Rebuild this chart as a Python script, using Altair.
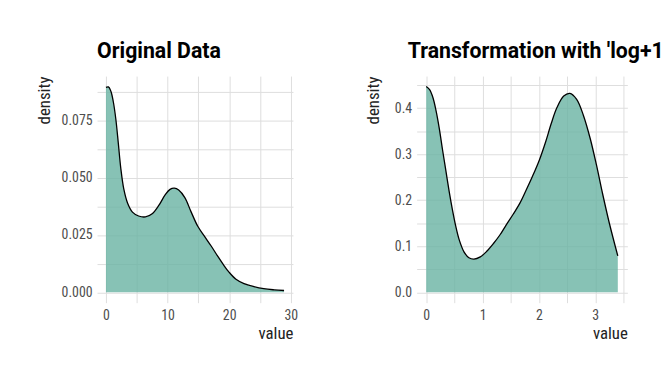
import altair as alt
import pandas as pd

FONT = '"Roboto Condensed", "Liberation Sans Narrow", "DejaVu Sans Condensed", Roboto, sans-serif'
TITLE_FONT = 'Roboto, sans-serif'

# ---- data ----
orig_x = [0, 0.4, 0.8, 1.2, 1.6, 2.0, 2.4, 2.9, 3.5, 4.3, 5.3, 6.4, 7.5, 8.6, 9.6,
          10.4, 11.1, 11.8, 12.8, 13.8, 14.9, 16.0, 17.1, 18.1, 19.0, 20.0, 21.1,
          22.4, 24.0, 25.6, 27.3, 28.9]
orig_y = [0.0894, 0.0896, 0.0877, 0.0830, 0.0756, 0.0652, 0.0543, 0.0450, 0.0390,
          0.0350, 0.0333, 0.0329, 0.0343, 0.0380, 0.0425, 0.0449, 0.0454, 0.0446,
          0.0413, 0.0352, 0.0288, 0.0244, 0.0201, 0.0159, 0.0123, 0.0087, 0.0057,
          0.0038, 0.0025, 0.0016, 0.0011, 0.0008]

log_x = [0, 0.06, 0.12, 0.175, 0.233, 0.29, 0.35, 0.41, 0.467, 0.525, 0.583, 0.67,
         0.758, 0.846, 0.96, 1.07, 1.19, 1.31, 1.42, 1.54, 1.66, 1.77, 1.89, 2.01,
         2.12, 2.22, 2.32, 2.44, 2.55, 2.67, 2.79, 2.91, 3.02, 3.13, 3.25, 3.4]
log_y = [0.447, 0.440, 0.4225, 0.394, 0.355, 0.309, 0.263, 0.217, 0.178, 0.143,
         0.115, 0.088, 0.075, 0.072, 0.077, 0.0885, 0.1055, 0.125, 0.1465, 0.169,
         0.193, 0.221, 0.253, 0.288, 0.327, 0.367, 0.401, 0.426, 0.432, 0.419,
         0.384, 0.334, 0.277, 0.214, 0.150, 0.079]

title_left = "Original Data"
title_right = "Transformation with 'log+1'"

left_x_ticks = [0, 5, 10, 15, 20, 25, 30]
left_y_ticks = [0, 0.0125, 0.025, 0.0375, 0.05, 0.0625, 0.075, 0.0875]
right_x_ticks = [0, 0.5, 1, 1.5, 2, 2.5, 3, 3.5]
right_y_ticks = [0, 0.05, 0.1, 0.15, 0.2, 0.25, 0.3, 0.35, 0.4, 0.45]

FILL = "#69b3a2"
GRID = "#dedede"


def panel(xs, ys, title, xdom, ydom, xticks, yticks, xlab, ylab, w, h,
          ytitle_x, title_dx, title_limit):
    df = pd.DataFrame({"value": xs, "density": ys})
    xaxis = alt.Axis(values=xticks, labelExpr=xlab, grid=True, gridColor=GRID,
                     gridWidth=1, domain=False, ticks=False, tickSize=0,
                     labelPadding=6, labelFlush=False, labelFont=FONT,
                     labelFontSize=14, labelColor="#4d4d4d", title="value",
                     titleFont=FONT, titleFontSize=17, titleFontWeight="normal",
                     titleColor="#222222", titleAlign="right",
                     titleBaseline="alphabetic", titleX=w, titleY=36,
                     titleAnchor="end")
    yaxis = alt.Axis(values=yticks, labelExpr=ylab, grid=True, gridColor=GRID,
                     gridWidth=1, domain=False, ticks=False, tickSize=0,
                     labelPadding=5, labelFlush=False, labelFont=FONT,
                     labelFontSize=14, labelColor="#4d4d4d", title="density",
                     titleFont=FONT, titleFontSize=17, titleFontWeight="normal",
                     titleColor="#222222", titleAngle=270, titleAlign="right",
                     titleBaseline="alphabetic", titleX=ytitle_x, titleY=0)
    area = alt.Chart(df).mark_area(
        fill=FILL, fillOpacity=0.8, interpolate="catmull-rom",
        line={"color": "black", "strokeWidth": 1.3},
    ).encode(
        x=alt.X("value:Q", scale=alt.Scale(domain=xdom, nice=False, zero=False), axis=xaxis),
        y=alt.Y("density:Q", scale=alt.Scale(domain=ydom, nice=False, zero=False), axis=yaxis),
    )
    tdf = pd.DataFrame({"t": [title]})
    ttl = alt.Chart(tdf).mark_text(
        align="left", baseline="alphabetic", font=TITLE_FONT, fontSize=21.5,
        fontWeight="bold", color="black", limit=title_limit, ellipsis="\u200b",
    ).encode(text="t:N", x=alt.value(title_dx), y=alt.value(-18))
    return alt.layer(area, ttl).properties(width=w, height=h)


left = panel(orig_x, orig_y, title_left, [-1.445, 30.345], [-0.0045, 0.0943],
             left_x_ticks, left_y_ticks,
             "round(datum.value) % 10 == 0 ? format(datum.value, 'd') : ''",
             "abs(round(datum.value * 10000) % 250) < 1 ? format(datum.value, '.3f') : ''",
             198, 229, -48, 0, 400)
right = panel(log_x, log_y, title_right, [-0.17, 3.57], [-0.0224, 0.4694],
              right_x_ticks, right_y_ticks,
              "round(datum.value * 10) % 10 == 0 ? format(datum.value, 'd') : ''",
              "round(datum.value * 100) % 10 == 0 ? format(datum.value, '.1f') : ''",
              213, 229, -39, -9, 262)

chart = alt.hconcat(left, right, spacing=67).properties(
    padding={"left": 28, "top": 32, "right": 0, "bottom": 5},
    background="white",
).configure_view(stroke=None)

chart.save("out.html", embed_options={"renderer": "svg", "actions": False})
